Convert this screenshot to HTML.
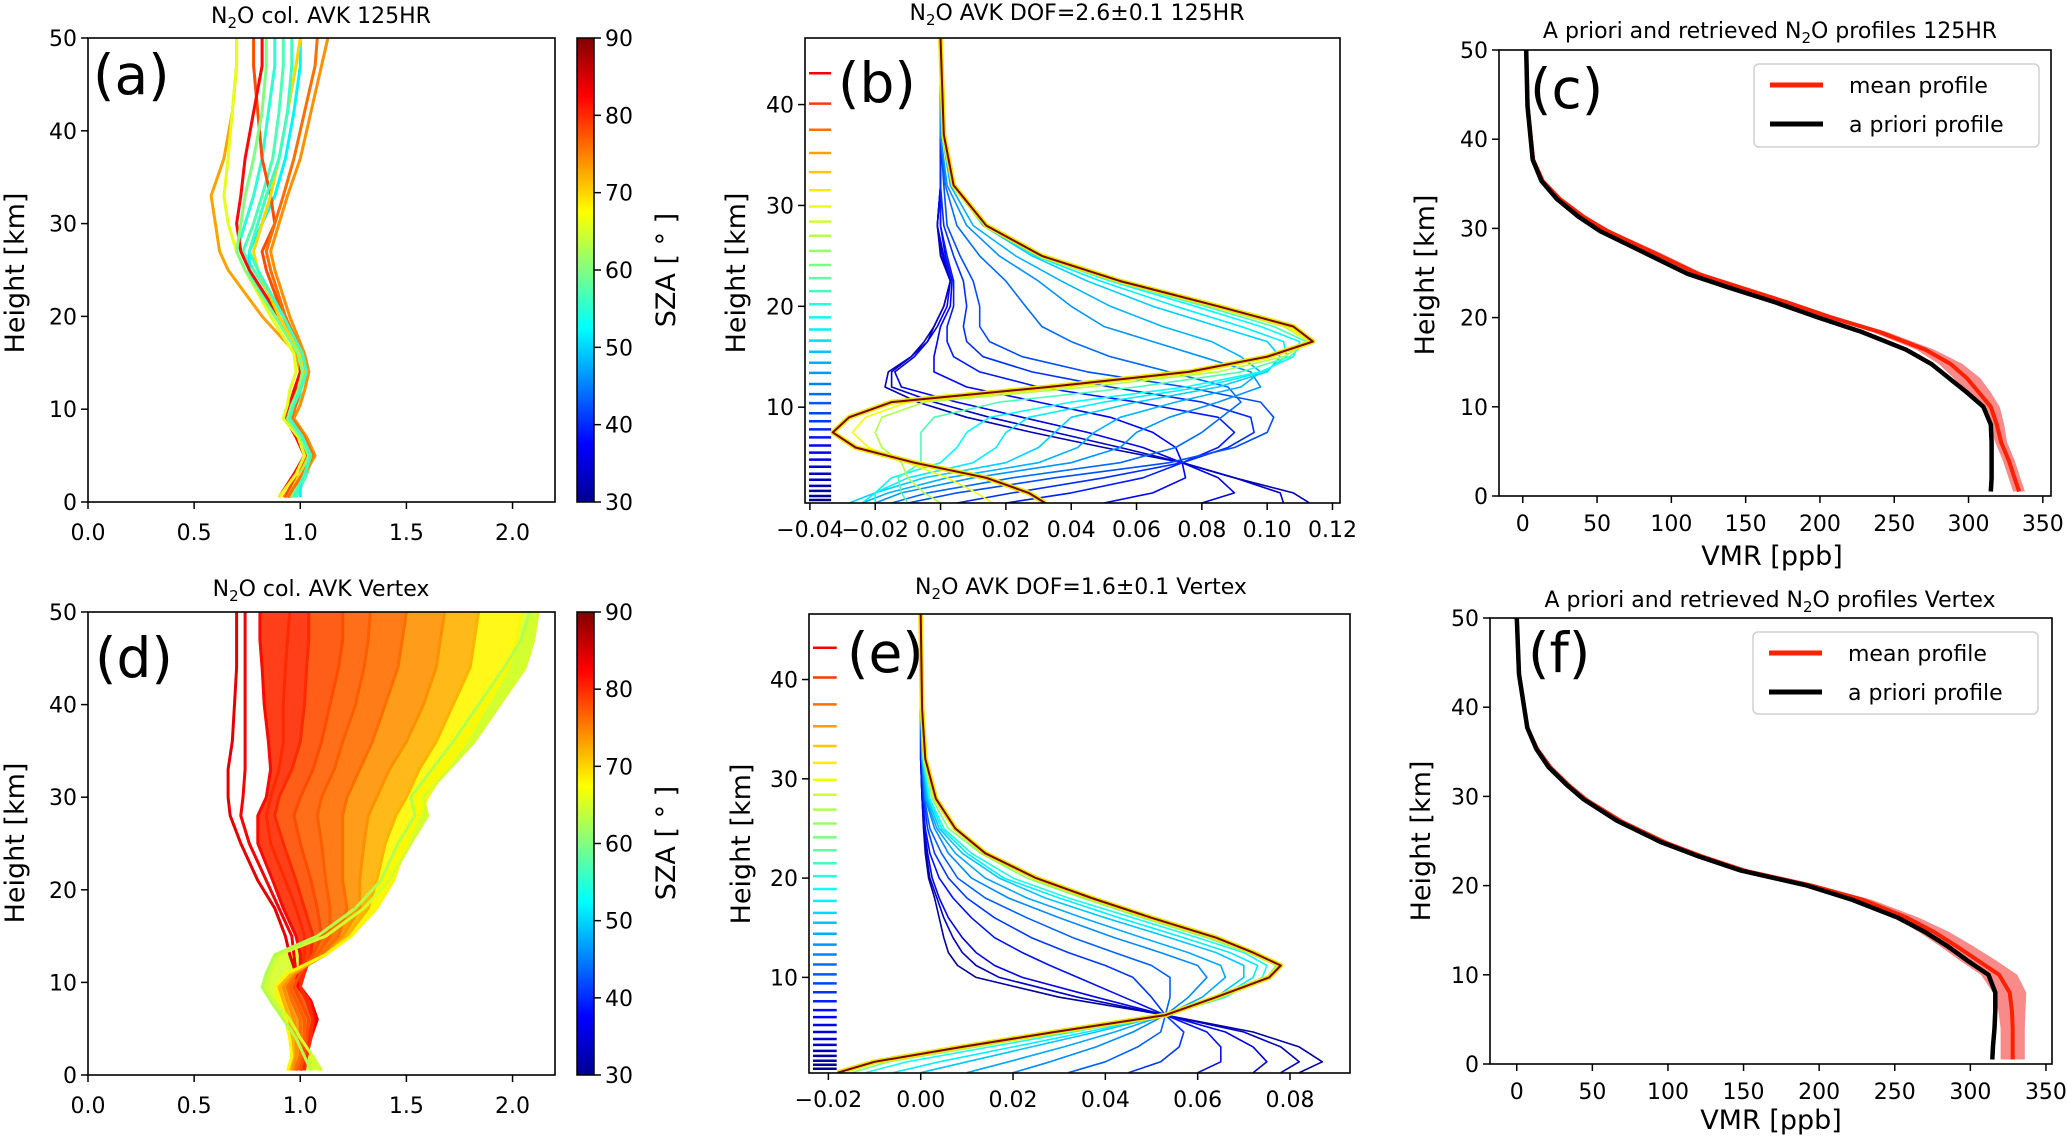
<!DOCTYPE html>
<html><head><meta charset="utf-8"><style>
html,body{margin:0;padding:0;background:#fff;}
svg{display:block;font-family:"DejaVu Sans","Liberation Sans",sans-serif;}
</style></head><body>
<svg id="fig" width="2067" height="1139" viewBox="0 0 2067 1139" xmlns="http://www.w3.org/2000/svg">
<rect x="0" y="0" width="2067" height="1139" fill="#fff"/>
<defs>
<linearGradient id="jetgrad" x1="0" y1="1" x2="0" y2="0">
<stop offset="0" stop-color="#00008f"/><stop offset="0.125" stop-color="#0000ff"/><stop offset="0.375" stop-color="#00ffff"/><stop offset="0.625" stop-color="#ffff00"/><stop offset="0.875" stop-color="#ff0000"/><stop offset="1" stop-color="#800000"/>
</linearGradient>
</defs>
<g font-size="22" fill="#000">
<text x="321" y="23" text-anchor="middle">N<tspan dy="5" font-size="15">2</tspan><tspan dy="-5">O col. AVK 125HR</tspan></text>
<text x="1077" y="20" text-anchor="middle">N<tspan dy="5" font-size="15">2</tspan><tspan dy="-5">O AVK DOF=2.6±0.1  125HR</tspan></text>
<text x="1770" y="38" text-anchor="middle">A priori and retrieved N<tspan dy="5" font-size="15">2</tspan><tspan dy="-5">O profiles 125HR</tspan></text>
<text x="321" y="596" text-anchor="middle">N<tspan dy="5" font-size="15">2</tspan><tspan dy="-5">O col. AVK Vertex</tspan></text>
<text x="1081" y="594" text-anchor="middle">N<tspan dy="5" font-size="15">2</tspan><tspan dy="-5">O AVK DOF=1.6±0.1  Vertex</tspan></text>
<text x="1770" y="607" text-anchor="middle">A priori and retrieved N<tspan dy="5" font-size="15">2</tspan><tspan dy="-5">O profiles Vertex</tspan></text>
</g>
<g font-size="27" fill="#000">
<text transform="translate(24,273) rotate(-90)" text-anchor="middle">Height [km]</text>
<text transform="translate(745,273) rotate(-90)" text-anchor="middle">Height [km]</text>
<text transform="translate(1434,275) rotate(-90)" text-anchor="middle">Height [km]</text>
<text transform="translate(24,843) rotate(-90)" text-anchor="middle">Height [km]</text>
<text transform="translate(750,844) rotate(-90)" text-anchor="middle">Height [km]</text>
<text transform="translate(1430,841) rotate(-90)" text-anchor="middle">Height [km]</text>
<text transform="translate(675,270) rotate(-90)" text-anchor="middle">SZA [ ° ]</text>
<text transform="translate(675,843) rotate(-90)" text-anchor="middle">SZA [ ° ]</text>
<text x="1772" y="565" text-anchor="middle">VMR [ppb]</text>
<text x="1771" y="1129" text-anchor="middle">VMR [ppb]</text>
</g>
<g font-size="55" fill="#000">
<text x="93" y="94">(a)</text>
<text x="838" y="102">(b)</text>
<text x="1530" y="108">(c)</text>
<text x="95" y="677">(d)</text>
<text x="847" y="672">(e)</text>
<text x="1528" y="672">(f)</text>
</g>
<g id="plots"></g>
</svg>
<script>
// ---------- data ----------
const aHeights = [0.5,3,5,7,9,10.5,12,14,16,20,25,27,30,33,37,42,47,50];
const aSZA = [73,55,57,52,78,82,74,66,70,60,76,56];
const aCurves = [
 [0.92,1.0,1.05,1.02,0.95,0.97,0.97,1.0,0.98,0.82,0.66,0.62,0.6,0.58,0.64,0.68,0.7,0.7],
 [0.95,1.02,1.05,1.0,0.93,0.97,1.0,1.02,1.0,0.9,0.74,0.7,0.74,0.78,0.82,0.85,0.88,0.88],
 [0.98,1.03,1.06,1.02,0.96,0.98,1.02,1.04,1.02,0.92,0.78,0.73,0.78,0.82,0.87,0.9,0.92,0.92],
 [1.0,1.0,1.03,1.0,0.95,0.96,1.0,1.02,1.0,0.88,0.76,0.76,0.82,0.88,0.93,0.97,1.0,1.0],
 [0.93,0.98,1.03,1.0,0.94,0.96,0.98,1.03,1.0,0.92,0.84,0.82,0.88,0.86,0.82,0.8,0.78,0.78],
 [0.9,0.97,1.02,0.98,0.93,0.95,0.97,1.0,1.0,0.9,0.76,0.72,0.7,0.72,0.74,0.78,0.82,0.82],
 [0.95,1.02,1.07,1.03,0.97,1.0,1.02,1.04,1.02,0.95,0.88,0.86,0.9,0.94,1.0,1.05,1.1,1.13],
 [0.9,0.98,1.02,0.99,0.92,0.94,0.95,0.98,0.97,0.86,0.74,0.7,0.66,0.64,0.66,0.68,0.7,0.7],
 [0.94,1.0,1.04,1.01,0.95,0.97,0.99,1.02,1.0,0.9,0.8,0.78,0.82,0.86,0.9,0.94,0.98,1.0],
 [0.96,1.01,1.04,1.0,0.94,0.96,0.99,1.01,0.99,0.88,0.74,0.7,0.72,0.74,0.78,0.82,0.84,0.84],
 [0.94,1.01,1.06,1.02,0.96,0.98,1.0,1.03,1.01,0.93,0.86,0.84,0.88,0.92,0.97,1.02,1.07,1.08],
 [0.97,1.02,1.05,1.01,0.95,0.97,1.0,1.03,1.01,0.92,0.8,0.76,0.8,0.84,0.9,0.94,0.96,0.96]
];
const dHeights = [0.5,2,4,6,8,9.5,11,13,15,18,21,25,28,30,33,36,40,44,47,50];
const dSZA = [84,83,82,80,80,78,77,76,74,72,68,65,63];
const dCurves = [
 [1.0,1.02,1.05,1.08,1.05,1.0,0.98,0.95,0.93,0.88,0.8,0.72,0.67,0.66,0.66,0.68,0.69,0.70,0.70,0.70],
 [0.98,1.0,1.03,1.07,1.04,0.99,0.98,0.97,0.96,0.9,0.84,0.76,0.72,0.73,0.74,0.74,0.74,0.74,0.74,0.74],
 [1.0,1.03,1.05,1.07,1.05,1.0,1.0,1.0,0.98,0.92,0.87,0.8,0.8,0.84,0.86,0.85,0.83,0.82,0.81,0.81],
 [1.0,1.02,1.04,1.06,1.04,1.0,1.0,1.02,1.02,0.98,0.93,0.86,0.84,0.86,0.9,0.92,0.92,0.93,0.94,0.95],
 [1.02,1.03,1.05,1.06,1.03,1.0,1.02,1.05,1.06,1.02,0.98,0.92,0.88,0.9,0.96,1.0,1.02,1.03,1.04,1.04],
 [1.0,1.02,1.03,1.04,1.0,0.97,1.0,1.06,1.1,1.08,1.05,1.0,0.97,1.0,1.06,1.1,1.14,1.18,1.2,1.2],
 [0.98,1.0,1.02,1.02,0.98,0.95,0.98,1.08,1.14,1.14,1.12,1.1,1.08,1.1,1.16,1.2,1.26,1.3,1.32,1.33],
 [0.97,1.0,1.0,1.0,0.96,0.94,0.98,1.1,1.18,1.22,1.2,1.2,1.2,1.22,1.28,1.34,1.4,1.46,1.48,1.5],
 [0.96,0.98,0.98,0.97,0.94,0.92,0.97,1.12,1.2,1.28,1.28,1.3,1.32,1.36,1.42,1.5,1.58,1.64,1.66,1.68],
 [0.95,0.96,0.96,0.95,0.92,0.9,0.96,1.12,1.22,1.32,1.36,1.4,1.45,1.5,1.56,1.64,1.72,1.8,1.82,1.84],
 [0.94,0.96,0.95,0.93,0.9,0.88,0.94,1.12,1.24,1.36,1.44,1.5,1.56,1.6,1.68,1.78,1.88,1.98,2.02,2.04],
 [1.1,1.06,1.0,0.95,0.88,0.84,0.86,0.9,1.12,1.3,1.42,1.52,1.6,1.58,1.7,1.82,1.94,2.06,2.1,2.12],
 [1.05,1.02,0.98,0.92,0.86,0.82,0.84,0.88,1.08,1.26,1.38,1.46,1.54,1.52,1.62,1.72,1.84,1.96,2.04,2.08]
];
const bHeights = [0.5,1.5,3,4.5,6,7.5,9,10.5,12,13.5,15,16.5,18,20,22.5,25,28,32,37,46.6];
const bLevelT = [0.05,0.07,0.1,0.12,0.15,0.17,0.2,0.23,0.27,0.3,0.33,0.36,0.38,0.45,0.55,0.62,0.7];
const bKernels = [
 [0.113,0.108,0.09,0.074,0.05,0.028,0.008,-0.007,-0.017,-0.016,-0.009,-0.005,-0.002,0.001,0.003,0.0,-0.001,0,0,0],
 [0.105,0.104,0.09,0.074,0.055,0.035,0.015,-0.002,-0.015,-0.015,-0.009,-0.004,-0.002,0.001,0.003,0.0005,-0.001,0,0,0],
 [0.08,0.09,0.085,0.074,0.062,0.045,0.025,0.005,-0.012,-0.014,-0.008,-0.004,-0.001,0.002,0.003,0.001,-0.001,0,0,0],
 [0.05,0.065,0.075,0.074,0.072,0.065,0.052,0.03,0.008,-0.002,-0.002,-0.001,0,0.003,0.0035,0.0015,0,0,0,0],
 [0.02,0.04,0.062,0.074,0.085,0.09,0.085,0.06,0.03,0.012,0.004,0.002,0.002,0.004,0.004,0.002,0,0,0,0],
 [0.005,0.022,0.05,0.074,0.088,0.096,0.095,0.08,0.052,0.028,0.013,0.008,0.007,0.008,0.007,0.004,0.001,0,0,0],
 [-0.01,0.005,0.035,0.07,0.09,0.1,0.102,0.098,0.075,0.045,0.025,0.015,0.012,0.012,0.01,0.006,0.002,0.001,0,0],
 [-0.015,-0.004,0.022,0.055,0.072,0.08,0.086,0.092,0.088,0.07,0.052,0.04,0.031,0.026,0.02,0.012,0.005,0.0015,0,0],
 [-0.02,-0.012,0.01,0.04,0.055,0.06,0.07,0.085,0.098,0.095,0.08,0.065,0.05,0.04,0.03,0.018,0.008,0.002,0,0],
 [-0.024,-0.016,0.002,0.03,0.042,0.047,0.055,0.072,0.092,0.098,0.092,0.083,0.068,0.052,0.037,0.023,0.01,0.003,0.0005,0],
 [-0.028,-0.02,-0.005,0.02,0.03,0.035,0.04,0.06,0.085,0.1,0.104,0.1,0.085,0.065,0.045,0.028,0.013,0.004,0.001,0],
 [-0.024,-0.02,-0.01,0.01,0.017,0.02,0.027,0.05,0.08,0.099,0.106,0.105,0.092,0.072,0.049,0.029,0.0135,0.004,0.001,0],
 [-0.02,-0.02,-0.015,0.0,0.005,0.008,0.015,0.04,0.075,0.098,0.108,0.11,0.098,0.078,0.052,0.03,0.014,0.004,0.001,0],
 [-0.01,-0.012,-0.013,-0.006,-0.006,-0.006,-0.002,0.018,0.06,0.092,0.107,0.112,0.102,0.081,0.053,0.031,0.014,0.004,0.001,0],
 [0.0,-0.005,-0.01,-0.012,-0.018,-0.02,-0.018,-0.005,0.045,0.085,0.105,0.113,0.105,0.083,0.054,0.031,0.014,0.004,0.001,0],
 [0.016,0.011,0.002,-0.01,-0.022,-0.027,-0.023,-0.01,0.039,0.08,0.102,0.113,0.106,0.084,0.055,0.031,0.014,0.004,0.001,0],
 [0.032,0.027,0.014,-0.008,-0.026,-0.033,-0.028,-0.015,0.033,0.076,0.1,0.114,0.108,0.085,0.055,0.031,0.014,0.004,0.001,0]
];
const bLevels = [43.1,40.1,37.5,35.2,33.3,31.5,29.9,28.4,27.0,25.5,24.1,22.8,21.5,20.2,18.9,17.7,16.6,15.5,14.4,13.4,12.3,11.3,10.4,9.4,8.6,7.8,7.0,6.2,5.5,4.8,4.1,3.4,2.8,2.2,1.7,1.2,0.8];
const eHeights = [0.4,1.5,3,4.5,6.2,8,10,11.2,12.5,14,16,18,20,22.5,25,28,32,37,46.6];
const eLevelT = [0.03,0.06,0.1,0.14,0.18,0.22,0.26,0.29,0.32,0.36,0.4,0.5,0.7];
const eKernels = [
 [0.082,0.087,0.082,0.072,0.053,0.030,0.012,0.008,0.006,0.005,0.004,0.003,0.0017,0.001,0.0006,0.0003,0,0,0],
 [0.078,0.082,0.078,0.070,0.053,0.034,0.017,0.012,0.009,0.007,0.005,0.0035,0.002,0.0012,0.0007,0.0003,0,0,0],
 [0.072,0.075,0.072,0.066,0.053,0.038,0.022,0.016,0.012,0.009,0.006,0.004,0.0025,0.0015,0.0008,0.0003,0,0,0],
 [0.06,0.065,0.065,0.062,0.053,0.044,0.034,0.028,0.022,0.016,0.011,0.007,0.004,0.002,0.001,0.0004,0.0001,0,0],
 [0.045,0.052,0.056,0.057,0.053,0.050,0.046,0.040,0.032,0.024,0.016,0.010,0.006,0.003,0.0015,0.0006,0.0002,0,0],
 [0.032,0.04,0.047,0.052,0.053,0.054,0.054,0.050,0.042,0.033,0.023,0.014,0.008,0.0045,0.002,0.0008,0.0002,0,0],
 [0.02,0.028,0.038,0.046,0.053,0.058,0.062,0.060,0.052,0.042,0.030,0.019,0.011,0.006,0.003,0.001,0.0003,0,0],
 [0.01,0.019,0.031,0.042,0.053,0.061,0.066,0.065,0.058,0.048,0.035,0.023,0.014,0.0075,0.0035,0.0012,0.0003,0,0],
 [0.0,0.01,0.024,0.038,0.053,0.064,0.070,0.070,0.064,0.054,0.040,0.027,0.017,0.009,0.004,0.0015,0.0004,0,0],
 [-0.006,0.004,0.02,0.036,0.053,0.065,0.072,0.073,0.067,0.057,0.043,0.03,0.018,0.010,0.0045,0.0018,0.0005,0,0],
 [-0.012,-0.003,0.015,0.033,0.053,0.066,0.074,0.075,0.070,0.060,0.046,0.032,0.020,0.011,0.005,0.002,0.0005,0,0],
 [-0.015,-0.007,0.012,0.031,0.053,0.065,0.075,0.077,0.071,0.062,0.048,0.035,0.023,0.013,0.006,0.0025,0.0007,0.0002,0],
 [-0.018,-0.010,0.009,0.029,0.053,0.064,0.0755,0.078,0.072,0.064,0.050,0.037,0.025,0.014,0.0075,0.0033,0.001,0.0003,0]
];
const eLevels = [43.2,40.2,37.5,35.3,33.3,31.6,29.9,28.4,26.9,25.5,24.1,22.8,21.5,20.2,18.9,17.7,16.5,15.5,14.4,13.3,12.3,11.3,10.3,9.4,8.5,7.6,6.7,6.0,5.2,4.5,3.8,3.2,2.6,2.1,1.6,1.2,0.8];
const cHeights = [0.5,2,4,6,8,10,11.6,13.2,14.8,16.4,18.4,20,21.7,23.3,24.9,27.3,29.7,31.3,33.3,35.3,37.7,43.7,50];
const cApriori = [315,315.5,315.5,315.5,315,310,299,287,275,258,228,199,170,140,111,81.5,52,37.6,23,12.6,6.7,3.2,2.3];
const cMean = [334,331,327,322,319,315,307,299,288,271,240,208,178,148,118,88,57,41,25,13.5,7,3.3,2.3];
const cSpread = [4,4,4,4,5,6,8,9,8,6,5,4,4,4,4,4,3,2,1.5,1,0.5,0.3,0.2];
const fHeights = [0.5,2,4,6,8,10,11.6,13.2,14.8,16.4,18.4,20,21.7,23.3,24.9,27.3,29.7,31.3,33.3,35.3,37.7,43.7,50];
const fApriori = [314.5,315,316,316.5,316.5,312,298,285,270,252,222,192,148,120,95,66,44,33,21,13,7,1.5,0];
const fMean = [328,328,328,327.5,326,319,305,291,276,258,229,195,150,122,97,68,45,34,22,13.5,7,1.5,0];
const fSpread = [8,8,8,9,11,12,12,11,10,8,6,5,5,4,4,3,3,2,2,1.5,1,0.5,0.3];
const ticksAX = [0,0.5,1,1.5,2]; const ticksAXLab = ['0.0','0.5','1.0','1.5','2.0'];
const ticksAY = [0,10,20,30,40,50];
const ticksBX = [-0.04,-0.02,0,0.02,0.04,0.06,0.08,0.10,0.12];
const ticksBXLab = ['\u22120.04','\u22120.02','0.00','0.02','0.04','0.06','0.08','0.10','0.12'];
const ticksEX = [-0.02,0,0.02,0.04,0.06,0.08];
const ticksEXLab = ['\u22120.02','0.00','0.02','0.04','0.06','0.08'];
const ticksBY = [10,20,30,40];
const ticksCX = [0,50,100,150,200,250,300,350];
const ticksSZA = [30,40,50,60,70,80,90];
const legendLabels = ['mean profile','a priori profile'];

// ---------- helpers ----------
const NS = 'http://www.w3.org/2000/svg';
const root = document.getElementById('plots');
function mk(tag, attrs, parent){const el=document.createElementNS(NS,tag);for(const k in attrs)el.setAttribute(k,attrs[k]);(parent||root).appendChild(el);return el;}
function jet(t){const c=v=>Math.round(255*Math.max(0,Math.min(1,v)));return 'rgb('+c(1.5-Math.abs(4*t-3))+','+c(1.5-Math.abs(4*t-2))+','+c(1.5-Math.abs(4*t-1))+')';}
function sx(p,v){return p.x0+(v-p.xmin)/(p.xmax-p.xmin)*(p.x1-p.x0);}
function sy(p,v){return p.y1-(v-p.ymin)/(p.ymax-p.ymin)*(p.y1-p.y0);}
function pathFor(p,xs,hs){return xs.map((v,i)=>(i?'L':'M')+sx(p,v).toFixed(1)+','+sy(p,hs[i]).toFixed(1)).join('');}

const PA={id:'a',x0:88,x1:555,y0:38,y1:502,xmin:0,xmax:2.2,ymin:0,ymax:50,lb:38};
const PD={id:'d',x0:88,x1:555,y0:612,y1:1075,xmin:0,xmax:2.2,ymin:0,ymax:50,lb:38};
const PB={id:'b',x0:805,x1:1340,y0:38,y1:503,xmin:-0.0415,xmax:0.1223,ymin:0.5,ymax:46.6,lb:34};
const PE={id:'e',x0:809,x1:1350,y0:614,y1:1073,xmin:-0.0242,xmax:0.093,ymin:0.37,ymax:46.6,lb:34};
const PC={id:'c',x0:1499,x1:2051,y0:50,y1:496,xmin:-16,xmax:355.5,ymin:0,ymax:50,lb:35};
const PF={id:'f',x0:1490,x1:2052,y0:618,y1:1064,xmin:-17.7,xmax:354,ymin:0,ymax:50,lb:35};

function clip(p){const cp=mk('clipPath',{id:'clip-'+p.id});mk('rect',{x:p.x0,y:p.y0,width:p.x1-p.x0,height:p.y1-p.y0},cp);
 const g=mk('g',{'clip-path':'url(#clip-'+p.id+')'});
 
 
 return g;}
function axes(p,xt,xl,yt){
 const g=mk('g',{});
 
 
 const fr=mk('rect',{x:p.x0,y:p.y0,width:p.x1-p.x0,height:p.y1-p.y0,fill:'none',stroke:'#000','stroke-width':1.6},g);
 
 
 xt.forEach((v,i)=>{const x=sx(p,v);
  mk('line',{x1:x,x2:x,y1:p.y1,y2:p.y1+7,stroke:'#000','stroke-width':1.5},g);
  const t=mk('text',{x:x,y:p.y1+p.lb,'text-anchor':'middle','font-size':22},g);
  t.textContent=xl[i];
  
  });
 yt.forEach(v=>{const y=sy(p,v);
  mk('line',{x1:p.x0-7,x2:p.x0,y1:y,y2:y,stroke:'#000','stroke-width':1.5},g);
  const t=mk('text',{x:p.x0-11,y:y+8,'text-anchor':'end','font-size':22},g);
  t.textContent=String(v);
  
  });
}
function colorbar(p){
 const x0=577,w=17;
 const r=mk('rect',{x:x0,y:p.y0,width:w,height:p.y1-p.y0,fill:'url(#jetgrad)',stroke:'#000','stroke-width':1.5});
 
 
 ticksSZA.forEach(v=>{const y=p.y1-(v-30)/60*(p.y1-p.y0);
  mk('line',{x1:x0+w,x2:x0+w+7,y1:y,y2:y,stroke:'#000','stroke-width':1.5});
  const t=mk('text',{x:x0+w+11,y:y+8,'font-size':22});
  t.textContent=String(v);
  
  });
}

// ---------- panel a ----------
{const g=clip(PA);
 aCurves.forEach((c,i)=>{const pth=mk('path',{d:pathFor(PA,c,aHeights),fill:'none',stroke:jet((aSZA[i]-30)/60),'stroke-width':3,'stroke-linejoin':'round'},g);
  
  });
 axes(PA,ticksAX,ticksAXLab,ticksAY); colorbar(PA);}
// ---------- panel d ----------
{const g=clip(PD);
 for(let i=dCurves.length-1;i>=1;i--){
  const a=dCurves[i],b=dCurves[i-1];
  const d=pathFor(PD,a,dHeights)+b.slice().reverse().map((v,k)=>'L'+sx(PD,v).toFixed(1)+','+sy(PD,dHeights[dHeights.length-1-k]).toFixed(1)).join('')+'Z';
  if(i>2){const f=mk('path',{d:d,fill:jet((dSZA[i]-30)/60),stroke:'none',opacity:0.9},g);
   
   }
 }
 dCurves.forEach((c,i)=>{const pth=mk('path',{d:pathFor(PD,c,dHeights),fill:'none',stroke:jet((dSZA[i]-30)/60),'stroke-width':3,'stroke-linejoin':'round'},g);
  
  });
 axes(PD,ticksAX,ticksAXLab,ticksAY); colorbar(PD);}
// ---------- kernels b / e ----------
function kernels(p,H,K,T,levels,lx1){
 const g=clip(p);
 levels.forEach(h=>{const y=sy(p,h);
  const l=mk('line',{x1:p.x0+4,x2:sx(p,lx1),y1:y,y2:y,stroke:jet(h/49),'stroke-width':2.5},g);
  
  });
 K.forEach((k,i)=>{const last=i===K.length-1;
  if(last){const u=mk('path',{d:pathFor(p,k,H),fill:'none',stroke:'#e8e800','stroke-width':5,'stroke-linejoin':'round'},g);
   
   }
  const pth=mk('path',{d:pathFor(p,k,H),fill:'none',stroke:last?'#7f0000':jet(T[i]),'stroke-width':last?2:1.6,'stroke-linejoin':'round'},g);
  
  });
}
kernels(PB,bHeights,bKernels,bLevelT,bLevels,-0.0335);
axes(PB,ticksBX,ticksBXLab,ticksBY);
kernels(PE,eHeights,eKernels,eLevelT,eLevels,-0.0182);
axes(PE,ticksEX,ticksEXLab,ticksBY);
// ---------- profiles c / f ----------
function profiles(p,H,ap,mean,spr,lg){
 const g=clip(p);
 const lo=mean.map((v,i)=>v-spr[i]), hi=mean.map((v,i)=>v+spr[i]);
 const band=mk('path',{d:pathFor(p,lo,H)+hi.slice().reverse().map((v,k)=>'L'+sx(p,v).toFixed(1)+','+sy(p,H[H.length-1-k]).toFixed(1)).join('')+'Z',fill:'rgba(245,60,60,0.6)',stroke:'none'},g);
 
 
 const m=mk('path',{d:pathFor(p,mean,H),fill:'none',stroke:'#ff2000','stroke-width':4},g);
 
 
 const a=mk('path',{d:pathFor(p,ap,H),fill:'none',stroke:'#000','stroke-width':4.5},g);
 
 
 axes(p,ticksCX,ticksCX.map(String),ticksAY);
 const lgd=mk('g',{});
 
 
 mk('rect',{x:lg.x,y:lg.y,width:285,height:lg.h,rx:5,fill:'#fff',stroke:'#d0d0d0','stroke-width':1.5},lgd);
 const cols=['#ff2000','#000'];
 legendLabels.forEach((s,i)=>{const yy=lg.y+21+i*39;
  const ln=mk('line',{x1:lg.x+16,x2:lg.x+69,y1:yy,y2:yy,stroke:cols[i],'stroke-width':5},lgd);
  
  
  const t=mk('text',{x:lg.x+95,y:yy+8,'font-size':22},lgd);
  t.textContent=s;
  
  });
}
profiles(PC,cHeights,cApriori,cMean,cSpread,{x:1754,y:64,h:83});
profiles(PF,fHeights,fApriori,fMean,fSpread,{x:1753,y:632,h:82});
</script>
</body></html>
